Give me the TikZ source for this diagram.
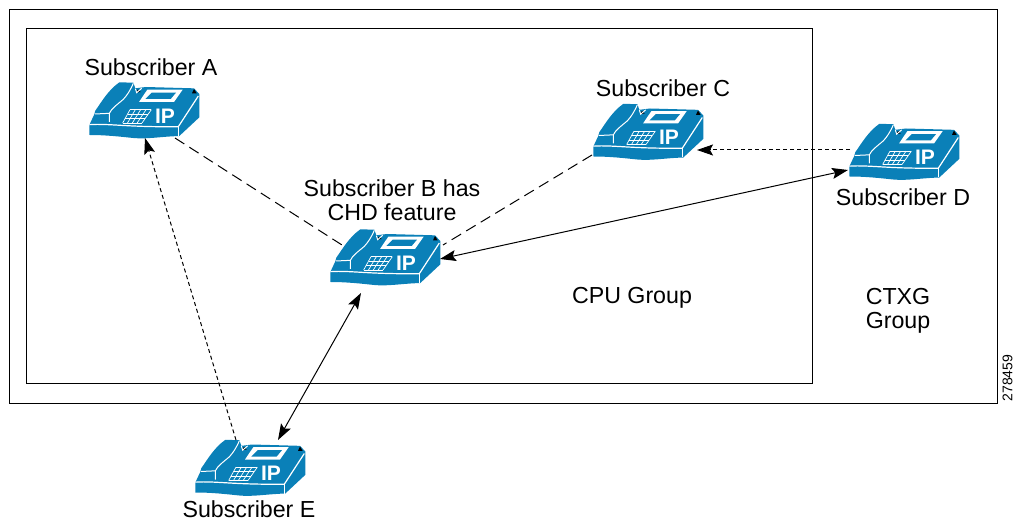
\documentclass[tikz,border=0pt]{standalone}
\usepackage{fontspec}
\setmainfont{Liberation Sans}
\usetikzlibrary{arrows.meta}
\definecolor{phoneblue}{HTML}{0A80B8}
\tikzset{
  x=1pt,y=-1pt,
  lab/.style={font=\fontsize{23.2}{24.5}\selectfont,align=center,text=black,inner sep=0pt},
  groupbox/.style={draw=black,line width=0.8pt},
  tip/.style={-{Stealth[length=16pt,width=11pt,inset=3pt]}},
  tips/.style={{Stealth[length=16pt,width=11pt,inset=3pt]}-{Stealth[length=16pt,width=11pt,inset=3pt]}},
  link/.style={draw=black,line width=1pt},
  longdash/.style={link,dash pattern=on 11pt off 6pt},
  shortdash/.style={link,dash pattern=on 4pt off 3pt},
  phone/.pic={
    \begin{scope}[scale=1/3]
      \fill[phoneblue] (58,165) -- (72,135) -- (76,122) .. controls (95,95) and (115,60) .. (148,37) -- (190,38) -- (196,55) -- (228,51) -- (372,55) -- (388,72) -- (388,142) -- (328,198) .. controls (270,200) and (230,208) .. (190,204) .. controls (150,200) and (110,195) .. (58,195) -- cycle;
      \fill[black] (366,70) -- (372,57) -- (380,70) -- cycle;
      \fill[black] (198,68) -- (204,58) -- (212,66) -- cycle;
      \draw[white,line width=1.2pt] (58,164) .. controls (120,160) and (170,172) .. (325,170) -- (385,78);
      \draw[white,line width=0.5pt] (325,170) -- (325,198);
      \draw[white,line width=1pt] (190,40) .. controls (180,62) and (172,75) .. (160,88) .. controls (140,105) and (125,115) .. (118,130) -- (118,156);
      \draw[white,line width=1pt] (74,132) -- (118,130);
      \draw[white,line width=1pt] (196,56) -- (200,68) -- (215,55);
      \fill[white] (232,59) -- (338,59) -- (312,96) -- (207,96) -- cycle;
      \fill[phoneblue] (245,68) -- (318,68) -- (302,87) -- (226,87) -- cycle;
      \foreach \s in {0,0.25,0.5,0.75,1}
        \draw[white,line width=0.7pt] ({180+\s*64},119) -- ({158+\s*58},159);
      \foreach \t in {0,0.333,0.667,1}
        \draw[white,line width=0.7pt] ({180-\t*22},{119+\t*40}) -- ({244-\t*28},{119+\t*40});
      \node[text=white,inner sep=0pt,font=\fontsize{21}{21}\bfseries\selectfont] (-ip) at (285,138) {IP};
    \end{scope}
  }
}
\begin{document}
\begin{tikzpicture}
\useasboundingbox (0,0) rectangle (1015,521);
\draw[groupbox] (9.5,9.5) rectangle (997.5,403) ;
\draw[groupbox] (26.5,28.5) rectangle (812,383);

\pic (phoneA) at (70,70) {phone};
\pic (phoneB) at (311,217) {phone};
\pic (phoneC) at (574,91.5) {phone};
\pic (phoneD) at (830,111.5) {phone};
\pic (phoneE) at (176,427.5) {phone};

\coordinate (aE) at (175,138);
\coordinate (bW) at (342,245);
\coordinate (cW) at (592,155);
\coordinate (bE) at (443,245);
\coordinate (cR) at (697,150);
\coordinate (dL) at (850,150);
\coordinate (bR) at (440,259);
\coordinate (dB) at (848,170);
\coordinate (bB) at (361,293);
\coordinate (eT) at (278,440);
\coordinate (eD) at (236,440);
\coordinate (aB) at (145,138);

\path[longdash] (aE) -- (bW);
\path[longdash] (cW) -- (bE);
\path[shortdash,tip] (dL) -- (cR);
\path[shortdash,tip] (eD) -- (aB);
\path[link,tips] (bR) -- (dB);
\path[link,tips] (bB) -- (eT);

\node[lab] (la) at (151,67.5) {Subscriber A};
\node[lab] (lc) at (663,88) {Subscriber C};
\node[lab] (lb) at (392,200) {Subscriber B has\\CHD feature};
\node[lab] (ld) at (903,197) {Subscriber D};
\node[lab] (le) at (249,509.5) {Subscriber E};
\node[lab] (cpu) at (632,297.5) {CPU Group};
\node[lab] (ctx) at (898,311) {CTXG\\Group};
\node[inner sep=0pt,rotate=90,font=\fontsize{14}{14}\selectfont] (num) at (1007.5,378) {278459};
\end{tikzpicture}
\end{document}
